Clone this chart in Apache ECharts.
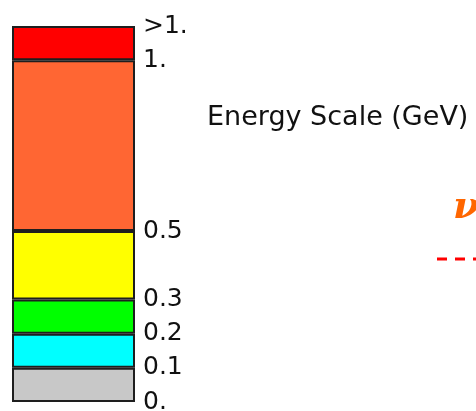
<!DOCTYPE html>
<html>
<head>
<meta charset="utf-8">
<style>
  html, body { margin: 0; padding: 0; background: #ffffff; }
  #chart { width: 476px; height: 411px; }
</style>
<script src="https://cdn.jsdelivr.net/npm/echarts@6/dist/echarts.min.js"></script>
</head>
<body>
<div id="chart"></div>
<script>
// Energy bands of the colour scale (GeV), bottom to top
const bandLower = [0, 0.1, 0.2, 0.3, 0.5, 1.0];
const bandUpper = [0.1, 0.2, 0.3, 0.5, 1.0, 1.1];
const bandColors = ['#c8c8c8', '#00ffff', '#00ff00', '#ffff00', '#ff6633', '#ff0000'];

// Labels placed on the band edges
const tickValues = [0, 0.1, 0.2, 0.3, 0.5, 1.0, 1.1];
const tickLabels = ['0.', '0.1', '0.2', '0.3', '0.5', '1.', '>1.'];

const scaleTitle = 'Energy Scale (GeV)';

const chart = echarts.init(document.getElementById('chart'), null, { renderer: 'canvas' });

const labelFor = {};
tickValues.forEach((v, i) => { labelFor[Math.round(v * 10)] = tickLabels[i]; });

const series = bandLower.map((lo, i) => ({
  type: 'bar',
  stack: 'scale',
  barWidth: '100%',
  silent: true,
  data: [+(bandUpper[i] - lo).toFixed(3)],
  itemStyle: { color: bandColors[i], borderColor: '#1e1e1e', borderWidth: 2 }
}));

chart.setOption({
  animation: false,
  backgroundColor: '#ffffff',
  grid: {
    left: 12, right: 341, top: 26, bottom: 9,
    containLabel: false,
    outerBoundsMode: 'none'
  },
  xAxis: {
    type: 'category',
    data: [''],
    show: false
  },
  yAxis: {
    type: 'value',
    position: 'right',
    min: 0,
    max: 1.1,
    interval: 0.1,
    splitLine: { show: false },
    axisLine: { show: false },
    axisTick: { show: false },
    axisLabel: {
      margin: 8,
      color: '#111111',
      fontFamily: 'DejaVu Sans',
      fontSize: 25,
      padding: [0, 0, 11, 0],
      formatter: v => labelFor[Math.round(v * 10)] || ''
    }
  },
  series: series,
  graphic: [
    {
      type: 'text',
      left: 207,
      top: 104,
      style: {
        text: scaleTitle,
        fontFamily: 'DejaVu Sans',
        fontSize: 27,
        fill: '#111111'
      }
    },
    {
      type: 'text',
      left: 453,
      top: 189,
      style: {
        text: 'ν',
        fontFamily: 'DejaVu Serif',
        fontStyle: 'italic',
        fontWeight: 'bold',
        fontSize: 38,
        fill: '#ff6600'
      }
    },
    {
      type: 'line',
      shape: { x1: 437, y1: 259, x2: 476, y2: 259 },
      style: { stroke: '#ff0000', lineWidth: 3, lineDash: [10, 8] }
    }
  ]
});
</script>
</body>
</html>
